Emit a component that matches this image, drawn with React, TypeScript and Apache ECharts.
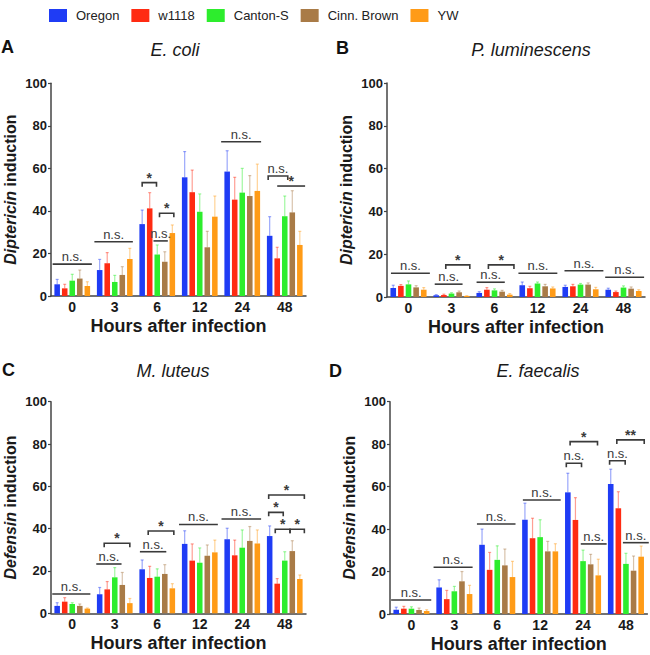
import React, { useEffect, useRef } from 'react';
import * as echarts from 'echarts';

const hours = ['0', '3', '6', '12', '24', '48'];
const strains = ['Oregon', 'w1118', 'Canton-S', 'Cinn. Brown', 'YW'];
const strainColors = ['#1f3cf5', '#ff2b12', '#2ded2d', '#a97b47', '#ff9b17'];

// rows = strains (Oregon, w1118, Canton-S, Cinn. Brown, YW), columns = hours
const ecoliMean = [
  [5.5, 12.2, 33.8, 55.8, 58.5, 28.3],
  [3.6, 15.4, 41.2, 48.8, 45.3, 17.7],
  [7.2, 6.6, 19.5, 39.6, 48.6, 37.5],
  [8.2, 9.9, 16.1, 22.9, 47.0, 39.3],
  [4.7, 17.4, 29.6, 37.3, 49.4, 24.0],
];
const ecoliErr = [
  [7.8, 17.2, 40.4, 67.9, 68.3, 37.3],
  [5.5, 20.4, 48.6, 59.2, 55.8, 22.9],
  [10.2, 9.7, 24.0, 48.0, 60.0, 47.0],
  [12.2, 13.8, 20.8, 30.4, 56.6, 49.5],
  [6.7, 22.4, 33.4, 47.0, 62.0, 30.4],
];
const ecoliSig = [
  [0, -0.6, 4.6, 15.0, 'n.s.', 0],
  [1, -0.7, 4.4, 25.5, 'n.s.', 0],
  [2, 0.0, 1.9, 53.3, '*', 1],
  [2, 2.3, 4.2, 38.9, '*', 1],
  [2, 1.5, 3.4, 25.9, 'n.s.', 0],
  [4, -0.8, 4.5, 72.5, 'n.s.', 0],
  [5, -0.2, 2.4, 56.4, 'n.s.', 1],
  [5, 1.0, 4.7, 51.7, '*', 0],
];

const plumMean = [
  [4.2, 0.8, 1.9, 5.5, 4.7, 3.4],
  [5.2, 0.9, 3.4, 4.1, 5.0, 2.3],
  [5.9, 1.6, 3.1, 6.3, 5.8, 4.4],
  [4.5, 2.2, 2.5, 5.0, 5.8, 3.9],
  [3.4, 0.5, 1.1, 4.0, 3.6, 2.8],
];
const plumErr = [
  [5.5, 1.1, 2.5, 7.0, 5.5, 4.1],
  [5.8, 1.3, 4.4, 5.0, 5.9, 2.8],
  [7.5, 2.0, 3.8, 7.0, 6.3, 5.2],
  [5.3, 2.8, 3.1, 5.9, 6.6, 4.7],
  [4.4, 0.6, 1.6, 4.7, 4.5, 3.4],
];
const plumSig = [
  [0, -0.3, 4.8, 11.1, 'n.s.', 0],
  [1, -0.2, 3.45, 6.0, 'n.s.', 0],
  [1, 1.25, 4.4, 15.0, '*', 1],
  [2, -0.35, 3.35, 6.9, 'n.s.', 0],
  [2, 1.2, 4.55, 15.0, '*', 1],
  [3, -0.5, 4.6, 11.1, 'n.s.', 0],
  [4, -0.1, 5.0, 12.3, 'n.s.', 0],
  [5, -0.4, 4.7, 9.2, 'n.s.', 0],
];

const mlutMean = [
  [3.5, 9.0, 20.8, 32.8, 35.0, 36.5],
  [5.5, 11.3, 16.7, 24.9, 27.4, 14.0],
  [4.4, 17.0, 17.3, 23.9, 31.0, 24.9],
  [3.5, 13.4, 18.6, 27.2, 34.2, 29.4],
  [2.2, 4.8, 11.8, 28.8, 33.0, 16.2],
];
const mlutErr = [
  [5.0, 12.2, 25.2, 39.0, 40.2, 41.3],
  [7.4, 15.0, 22.2, 32.8, 34.6, 16.4],
  [5.0, 21.6, 21.0, 30.9, 39.4, 29.1],
  [4.4, 19.3, 23.0, 32.3, 41.0, 34.3],
  [2.5, 7.0, 14.0, 34.6, 39.4, 18.1],
];
const mlutSig = [
  [0, -0.65, 4.4, 9.1, 'n.s.', 0],
  [1, -0.45, 2.9, 23.3, 'n.s.', 0],
  [1, 0.6, 4.0, 33.1, '*', 1],
  [2, -0.3, 3.2, 29.1, 'n.s.', 0],
  [2, 0.8, 4.2, 38.9, '*', 1],
  [3, -0.75, 4.4, 42.0, 'n.s.', 0],
  [4, -0.75, 4.5, 44.6, 'n.s.', 0],
  [5, -0.13, 4.6, 55.9, '*', 1],
  [5, -0.13, 1.8, 47.7, '*', 1],
  [5, 0.74, 2.7, 39.7, '*', 1],
  [5, 2.7, 4.6, 39.7, '*', 1],
];

const efaeMean = [
  [2.0, 12.5, 32.6, 44.4, 57.3, 61.2],
  [2.5, 7.0, 20.8, 35.7, 44.3, 49.8],
  [2.5, 10.7, 25.5, 36.2, 24.9, 23.6],
  [1.9, 15.4, 22.9, 29.5, 23.4, 20.4],
  [1.4, 9.4, 17.4, 29.5, 18.2, 27.0],
];
const efaeErr = [
  [3.2, 16.1, 40.0, 52.2, 66.3, 68.2],
  [3.6, 11.1, 29.0, 45.1, 54.8, 57.6],
  [3.4, 13.0, 32.1, 44.4, 30.1, 28.6],
  [2.8, 20.0, 30.6, 34.2, 28.1, 27.3],
  [2.0, 13.5, 24.8, 33.1, 25.8, 32.0],
];
const efaeSig = [
  [0, -0.67, 4.6, 6.6, 'n.s.', 0],
  [1, -0.73, 4.4, 22.0, 'n.s.', 0],
  [2, -0.67, 4.4, 42.4, 'n.s.', 0],
  [3, -0.27, 4.7, 53.7, 'n.s.', 0],
  [4, -0.2, 1.8, 71.0, 'n.s.', 1],
  [4, 0.3, 3.9, 81.2, '*', 1],
  [4, 1.7, 5.1, 33.0, 'n.s.', 0],
  [5, -0.15, 1.9, 72.2, 'n.s.', 1],
  [5, 0.8, 4.4, 82.0, '**', 1],
  [5, 1.6, 5.0, 33.6, 'n.s.', 0],
];

const panelTitles = ['E. coli', 'P. luminescens', 'M. luteus', 'E. faecalis'];
const panelLetters = ['A', 'B', 'C', 'D'];
const panelGenes = ['Diptericin', 'Diptericin', 'Defensin', 'Defensin'];
const xName = 'Hours after infection';

const FONT = '"Liberation Sans", Arial, Helvetica, sans-serif';
const CAT_GAP = 0.16;
const BAR_GAP = 0.36;

function barX(api: any, cat: number, idx: number) {
  const center = api.coord([cat, 0])[0];
  const band = api.size([1, 0])[0];
  const groupW = band * (1 - CAT_GAP);
  const n = strains.length;
  const w = groupW / (n + (n - 1) * BAR_GAP);
  return center - groupW / 2 + w / 2 + idx * w * (1 + BAR_GAP);
}

const grids = [
  { left: 51, top: 83.3, width: 255, height: 212.7 },
  { left: 387, top: 83, width: 258, height: 214 },
  { left: 51, top: 401.7, width: 255, height: 211.6 },
  { left: 390, top: 401.7, width: 257.4, height: 212.3 },
];
const titlePos = [
  { x: 175, y: 41 },
  { x: 531, y: 41 },
  { x: 173, y: 362 },
  { x: 538, y: 362 },
];
const letterPos = [
  { x: 1, y: 38 },
  { x: 336, y: 39 },
  { x: 2, y: 361 },
  { x: 329, y: 362 },
];

function buildOption() {
  const means = [ecoliMean, plumMean, mlutMean, efaeMean];
  const errs = [ecoliErr, plumErr, mlutErr, efaeErr];
  const sigs: any[][] = [ecoliSig, plumSig, mlutSig, efaeSig];

  const xAxis: any[] = [];
  const yAxis: any[] = [];
  const series: any[] = [];
  const title: any[] = [];

  for (let p = 0; p < 4; p++) {
    xAxis.push({
      type: 'category',
      gridIndex: p,
      data: hours,
      name: xName,
      nameLocation: 'middle',
      nameGap: 21,
      nameTextStyle: { fontFamily: FONT, fontSize: 18, fontWeight: 'bold', color: '#1a1a1a' },
      axisLine: { lineStyle: { color: '#444', width: 1.5 } },
      axisTick: { alignWithLabel: true, length: 3, lineStyle: { color: '#444', width: 1.2 } },
      axisLabel: { fontFamily: FONT, fontSize: 14, fontWeight: 'bold', color: '#1a1a1a', margin: 4 },
      splitLine: { show: false },
    });
    yAxis.push({
      type: 'value',
      gridIndex: p,
      min: 0,
      max: 100,
      interval: 20,
      name: '{i|' + panelGenes[p] + '} {b|induction}',
      nameLocation: 'middle',
      nameGap: 33,
      nameTextStyle: {
        fontFamily: FONT, fontSize: 16, fontWeight: 'bold', color: '#1a1a1a',
        rich: {
          i: { fontFamily: FONT, fontSize: 16, fontWeight: 'bold', fontStyle: 'italic', color: '#1a1a1a' },
          b: { fontFamily: FONT, fontSize: 16, fontWeight: 'bold', color: '#1a1a1a' },
        },
      },
      axisLine: { show: true, lineStyle: { color: '#444', width: 1.5 } },
      axisTick: { show: true, length: 3, lineStyle: { color: '#444', width: 1.2 } },
      axisLabel: { fontFamily: FONT, fontSize: 13, fontWeight: 'bold', color: '#1a1a1a', margin: 4 },
      splitLine: { show: false },
    });

    title.push({
      text: panelTitles[p],
      left: titlePos[p].x,
      top: titlePos[p].y,
      textAlign: 'center',
      padding: 0,
      textStyle: { fontFamily: FONT, fontSize: 18, fontStyle: 'italic', fontWeight: 'normal', color: '#1a1a1a' },
    });
    title.push({
      text: panelLetters[p],
      left: letterPos[p].x,
      top: letterPos[p].y,
      padding: 0,
      textStyle: { fontFamily: FONT, fontSize: 18, fontWeight: 'bold', color: '#111' },
    });

    for (let s = 0; s < strains.length; s++) {
      series.push({
        type: 'bar',
        name: strains[s],
        xAxisIndex: p,
        yAxisIndex: p,
        data: means[p][s],
        barGap: (BAR_GAP * 100) + '%',
        barCategoryGap: (CAT_GAP * 100) + '%',
        itemStyle: { color: strainColors[s] },
        z: 2,
      });
    }

    const errData: number[][] = [];
    for (let s = 0; s < strains.length; s++) {
      for (let c = 0; c < hours.length; c++) {
        errData.push([c, s, means[p][s][c], errs[p][s][c]]);
      }
    }
    series.push({
      type: 'custom',
      name: 'error bars',
      xAxisIndex: p,
      yAxisIndex: p,
      coordinateSystem: 'cartesian2d',
      encode: { x: 0, y: 3 },
      silent: true,
      z: 3,
      data: errData,
      renderItem: (params: any, api: any) => {
        const c = api.value(0);
        const s = api.value(1);
        const m = api.value(2);
        const e = api.value(3);
        const x = barX(api, c, s);
        const y0 = api.coord([c, m])[1];
        const y1 = api.coord([c, e])[1];
        const st = { stroke: strainColors[s], lineWidth: 1.2, opacity: 0.45 };
        return {
          type: 'group',
          children: [
            { type: 'line', shape: { x1: x, y1: y0, x2: x, y2: y1 }, style: st },
            { type: 'line', shape: { x1: x - 1.5, y1: y1, x2: x + 1.5, y2: y1 }, style: st },
          ],
        };
      },
    });

    const sig = sigs[p];
    series.push({
      type: 'custom',
      name: 'significance',
      xAxisIndex: p,
      yAxisIndex: p,
      coordinateSystem: 'cartesian2d',
      encode: { x: 0, y: 3 },
      silent: true,
      z: 4,
      data: sig.map((r: any[]) => [r[0], r[1], r[2], r[3], r[5]]),
      renderItem: (params: any, api: any) => {
        const c = api.value(0);
        const f = api.value(1);
        const t = api.value(2);
        const yv = api.value(3);
        const tick = api.value(4);
        const label = sig[params.dataIndex][4] as string;
        const x1 = barX(api, c, f);
        const x2 = barX(api, c, t);
        const y = api.coord([c, yv])[1];
        const lineStyle = { stroke: '#3a3a3a', lineWidth: 1.6, fill: 'none' };
        const star = label !== 'n.s.';
        const shape = tick
          ? { type: 'polyline', shape: { points: [[x1, y + 4], [x1, y], [x2, y], [x2, y + 4]] }, style: lineStyle }
          : { type: 'line', shape: { x1, y1: y, x2, y2: y }, style: lineStyle };
        return {
          type: 'group',
          children: [
            shape,
            {
              type: 'text',
              x: (x1 + x2) / 2,
              y: star ? y + 2 : y - 1,
              style: {
                text: label,
                align: 'center',
                verticalAlign: 'bottom',
                fontFamily: FONT,
                fontSize: star ? 14 : 13,
                fontWeight: star ? 'bold' : 'normal',
                fill: '#3a3a3a',
              },
            },
          ],
        };
      },
    });
  }

  return {
    animation: false,
    backgroundColor: '#ffffff',
    textStyle: { fontFamily: FONT },
    title,
    legend: {
      data: strains,
      left: 49,
      top: 9,
      icon: 'rect',
      itemWidth: 18,
      itemHeight: 13,
      itemGap: 12,
      padding: 0,
      selectedMode: false,
      textStyle: { fontFamily: FONT, fontSize: 13, color: '#222', padding: [0, 0, 0, 4] },
    },
    grid: grids.map((g) => ({ ...g, containLabel: false })),
    xAxis,
    yAxis,
    series,
  };
}

export default function App() {
  const ref = useRef<HTMLDivElement>(null);
  useEffect(() => {
    document.body.style.margin = '0';
    if (!ref.current) return;
    const chart = echarts.init(ref.current, null, { renderer: 'svg' });
    chart.setOption(buildOption() as any);
    return () => chart.dispose();
  }, []);
  return <div ref={ref} style={{ width: 650, height: 655 }} />;
}
